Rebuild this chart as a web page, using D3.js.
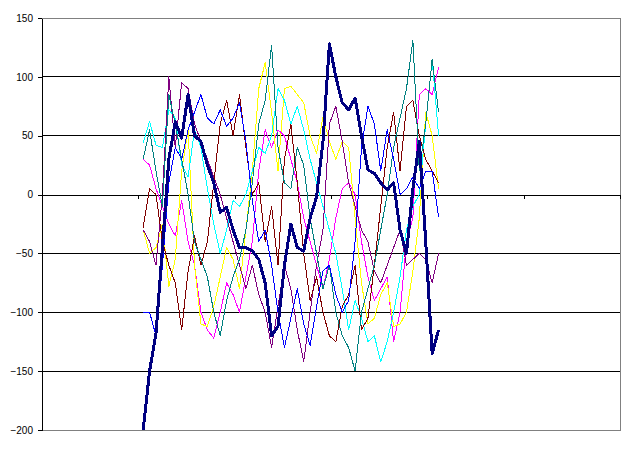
<!DOCTYPE html>
<html>
<head>
<meta charset="utf-8">
<script src="https://cdn.jsdelivr.net/npm/d3@7"></script>
<style>
  body { margin: 0; background: #fff; }
  svg { display: block; }
</style>
</head>
<body>
<svg id="chart" width="638" height="461"></svg>
<script>
// category axis: 180 categories, ticks every 30, series sampled every 2nd category
const firstCat = 31;
const catStep = 2;
const xTicks = [30, 60, 90, 120, 150, 180];
const yTicks = [-200, -150, -100, -50, 0, 50, 100, 150];

const navy = [-200,-150,-118,-45,30,62,48,85,50,45,25,10,-15,-11,-30,-45,-45,-48,-55,-75,-120,-112,-60,-25,-45,-48,-20,-2,45,128,100,78,72,82,50,21,18,10,4,10,-30,-50,5,45,-40,-135,-115];
const blue = [-100,-100,-120,-60,10,40,30,55,70,85,65,60,72,58,65,78,45,-5,-40,-30,-60,-100,-130,-105,-80,-110,-128,-95,-65,-60,-85,-100,-90,-40,40,75,60,20,55,30,0,5,15,5,20,20,-19];
const yellow = [-30,-50,-45,-25,-78,-55,20,55,-60,-110,-112,-95,-70,-45,-55,-80,-30,20,90,112,70,20,90,92,85,78,50,35,66,45,30,45,40,-20,-75,-110,-105,-85,-75,-112,-110,-100,-65,-20,70,50,5];
const cyan = [44,62,42,40,72,65,25,15,55,40,5,-25,-50,-30,-5,-10,0,20,40,35,50,90,80,60,75,55,30,10,-10,-30,-50,-80,-115,-90,-105,-125,-120,-142,-125,-100,-70,-30,-10,0,60,115,50];
const teal = [30,55,20,-10,85,60,30,0,-40,-55,-70,-100,-120,-90,-70,-55,-30,10,60,80,127,40,10,5,40,25,-20,-50,-80,-60,-100,-120,-130,-150,-100,-80,-60,-30,0,40,65,90,131,20,60,115,70];
const maroon = [-28,5,0,-40,-60,-75,-115,-65,-35,-60,-40,10,60,80,50,85,40,0,10,-40,-10,-60,30,60,10,-50,-90,-70,-100,-120,-125,-95,-85,-60,-115,-105,-60,-10,40,70,20,75,80,50,30,20,10];
const purple = [-30,-40,-60,0,100,40,95,90,60,45,30,15,0,-20,-40,-60,-80,-60,-85,-100,-130,-95,-60,-80,-115,-142,-100,-60,-30,60,75,45,10,-10,-30,-40,-65,-75,-60,-45,-30,-60,-55,-50,-55,-75,-50];
const magenta = [30,25,5,-10,-25,-35,-5,-40,-60,-100,-115,-122,-100,-75,-85,-100,-70,-40,20,55,40,55,50,30,10,-20,-40,-60,-80,-55,-20,5,10,0,-40,-70,-90,-80,-70,-125,-100,-40,-20,85,90,85,108];

const series = [
  {values: magenta, color: "#FF00FF", width: 1},
  {values: yellow, color: "#FFFF00", width: 1},
  {values: cyan, color: "#00FFFF", width: 1},
  {values: purple, color: "#800080", width: 1},
  {values: maroon, color: "#800000", width: 1},
  {values: teal, color: "#008080", width: 1},
  {values: blue, color: "#0000FF", width: 1},
  {values: navy, color: "#000080", width: 3}
];

const svg = d3.select("#chart");
const plotLeft = 42, plotRight = 620, plotTop = 18, plotBottom = 430;

let x = d3.scaleLinear().domain([0, 180]).range([plotLeft, plotRight]);
let y = d3.scaleLinear().domain([-200, 150]).range([plotBottom, plotTop]);

// plot border (grey)
svg.append("rect")
  .attr("x", plotLeft).attr("y", plotTop)
  .attr("width", plotRight - plotLeft).attr("height", plotBottom - plotTop)
  .attr("fill", "none").attr("stroke", "#808080").attr("stroke-width", 1)
  .attr("shape-rendering", "crispEdges");

// gridlines (zero is drawn by the category axis)
svg.append("g").selectAll("line")
  .data(yTicks.filter(d => d > -200 && d < 150 && d !== 0))
  .join("line")
  .attr("x1", plotLeft).attr("x2", plotRight)
  .attr("y1", d => y(d)).attr("y2", d => y(d))
  .attr("stroke", "#000").attr("stroke-width", 1)
  .attr("shape-rendering", "crispEdges");

// y axis
let yAxis = svg.append("g")
  .attr("transform", `translate(${plotLeft},0)`)
  .call(d3.axisLeft(y).tickValues(yTicks).tickSize(4).tickPadding(5).tickSizeOuter(0));
yAxis.select(".domain").attr("stroke", "#000").attr("shape-rendering", "crispEdges");
yAxis.selectAll(".tick line").attr("stroke", "#000").attr("shape-rendering", "crispEdges");
yAxis.selectAll("text")
  .attr("font-family", "'Liberation Sans', Arial, sans-serif")
  .attr("font-size", 10)
  .attr("fill", "#000");

// x axis at zero
let xAxis = svg.append("g")
  .attr("transform", `translate(0,${y(0)})`)
  .call(d3.axisBottom(x).tickValues(xTicks).tickSize(4).tickSizeOuter(0).tickFormat(""));
xAxis.select(".domain").attr("stroke", "#000").attr("shape-rendering", "crispEdges");
xAxis.selectAll(".tick line").attr("stroke", "#000").attr("shape-rendering", "crispEdges");

// series lines (aliased, like the old spreadsheet renderer)
let line = d3.line()
  .x((d, i) => x(firstCat + i * catStep + 0.5))
  .y(d => y(d));

svg.append("g")
  .selectAll("path")
  .data(series)
  .join("path")
  .attr("fill", "none")
  .attr("stroke", d => d.color)
  .attr("stroke-width", d => d.width)
  .attr("stroke-linejoin", "round")
  .attr("shape-rendering", "crispEdges")
  .attr("d", d => line(d.values));
</script>
</body>
</html>
